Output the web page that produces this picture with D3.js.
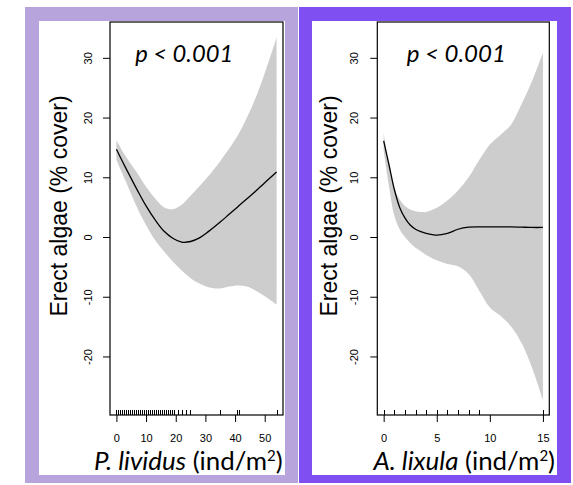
<!DOCTYPE html>
<html>
<head>
<meta charset="utf-8">
<script src="https://cdn.jsdelivr.net/npm/d3@7"></script>
<style>
  html, body { margin: 0; padding: 0; background: #fff; }
  svg { display: block; }
</style>
</head>
<body>
<svg id="chart" width="573" height="485"></svg>
<script>
// ---- P. lividus: fitted smooth and 95% confidence band ----
const lividusX   = [0, 3, 7, 10, 13, 16, 19, 22, 25, 28, 31, 35, 38, 41, 44, 47, 50, 54];
const lividusFit = [14.7, 11.7, 7.9, 5.2, 2.9, 1.0, -0.2, -0.85, -0.75, -0.15, 0.9, 2.5, 3.8, 5.1, 6.4, 7.7, 9.1, 10.9];
const lividusLo  = [12.9, 9.5, 4.9, 2.0, -0.5, -2.4, -4.1, -5.6, -6.9, -7.8, -8.4, -8.6, -8.3, -8.1, -8.3, -9.0, -9.9, -11.3];
const lividusHi  = [16.2, 13.6, 10.7, 8.4, 6.5, 5.0, 4.65, 5.4, 6.9, 8.5, 10.2, 12.7, 14.8, 17.1, 20.0, 23.4, 27.4, 33.4];
// observed densities (rug)
const lividusRug = [0, 0.67, 1.33, 2, 2.67, 3.33, 4, 4.67, 5.33, 6, 6.67, 7.33, 8, 8.67, 9.33, 10,
  10.67, 11.33, 12, 12.67, 13.33, 14, 14.67, 15.33, 16, 16.67, 17.33, 18, 18.67, 19.33,
  20.67, 22, 23.33, 24.67, 35, 40.67, 41.33, 54];
const lividusTicks = [0, 10, 20, 30, 40, 50];

// ---- A. lixula: fitted smooth and 95% confidence band ----
const lixulaX   = [0, 0.5, 1, 1.5, 2, 2.5, 3, 3.5, 4, 5, 6, 7, 8, 9, 10, 11, 12, 13, 14, 15];
const lixulaFit = [16.1, 12.1, 8.0, 5.0, 3.2, 2.0, 1.3, 0.9, 0.6, 0.3, 0.6, 1.3, 1.65, 1.7, 1.7, 1.7, 1.7, 1.65, 1.6, 1.6];
const lixulaLo  = [14.5, 8.5, 3.6, 1.3, 0.0, -1.0, -1.8, -2.4, -3.0, -3.9, -4.5, -4.9, -6.2, -9.0, -11.8, -13.2, -15.0, -17.8, -22.0, -27.3];
const lixulaHi  = [17.4, 12.0, 8.2, 6.3, 5.2, 4.6, 4.3, 4.2, 4.2, 4.9, 6.1, 7.8, 10.0, 12.9, 15.5, 17.1, 18.8, 22.3, 26.2, 30.8];
const lixulaRug = [0, 1, 2, 3, 4, 5, 6, 7, 8, 9, 15];
const lixulaTicks = [0, 5, 10, 15];

// ---- shared response axis ----
const yTicks = [-20, -10, 0, 10, 20, 30];
const yTitle = "Erect algae (% cover)";
const pLabel = "p < 0.001";

const svg = d3.select("#chart");
const sansFont = "'Liberation Sans', Arial, sans-serif";
const textFont = "Lato, 'Open Sans', sans-serif";

const y = d3.scaleLinear().domain([-29.8, 36.0]).range([415, 22]);

const panels = [
  {
    frame: { x: 25, w: 273, fill: "#b7a4dd" },
    inner: { x: 39, w: 246 },
    box: [110, 283],
    xDomain: [-2.16, 56.16],
    xs: lividusX, fit: lividusFit, lo: lividusLo, hi: lividusHi,
    rug: lividusRug, ticks: lividusTicks,
    species: "P. lividus",
    yTitleX: 67, yTickBase: 18.5,
    pCenter: 184.2, pWidth: 98,
    xtCenter: 188.3, xtWidth: 188.7, xtBase: 470
  },
  {
    frame: { x: 299, w: 272, fill: "#7f4ff2" },
    inner: { x: 312, w: 245 },
    box: [377.3, 549.3],
    xDomain: [-0.6, 15.6],
    xs: lixulaX, fit: lixulaFit, lo: lixulaLo, hi: lixulaHi,
    rug: lixulaRug, ticks: lixulaTicks,
    species: "A. lixula",
    yTitleX: 337, yTickBase: 19,
    pCenter: 456.3, pWidth: 99.3,
    xtCenter: 464.2, xtWidth: 181.7, xtBase: 469.5
  }
];

// scale a text element's font so its advance width equals the wanted width
function fitWidth(sel, width) {
  const fs = parseFloat(sel.attr("font-size"));
  const w = sel.node().getComputedTextLength();
  if (w > 0) sel.attr("font-size", fs * width / w);
}

// plain hyphen-minus labels, as base graphics prints them
const plainFormat = d => String(d);
const smooth = d3.curveCatmullRom.alpha(0.5);

panels.forEach(p => {
  // coloured frame with white inner card
  svg.append("rect").attr("x", p.frame.x).attr("y", 7)
    .attr("width", p.frame.w).attr("height", 476).attr("fill", p.frame.fill);
  svg.append("rect").attr("x", p.inner.x).attr("y", 21)
    .attr("width", p.inner.w).attr("height", 454).attr("fill", "#ffffff");

  const x = d3.scaleLinear().domain(p.xDomain).range(p.box);
  const rows = p.xs.map((v, i) => ({ x: v, fit: p.fit[i], lo: p.lo[i], hi: p.hi[i] }));

  const g = svg.append("g");

  // confidence band
  g.append("path")
    .datum(rows)
    .attr("fill", "#cdcdcd")
    .attr("d", d3.area().curve(smooth)
      .x(d => x(d.x)).y0(d => y(d.lo)).y1(d => y(d.hi)));

  // fitted smooth
  g.append("path")
    .datum(rows)
    .attr("fill", "none")
    .attr("stroke", "#000")
    .attr("stroke-width", 1.3)
    .attr("d", d3.line().curve(smooth)
      .x(d => x(d.x)).y(d => y(d.fit)));

  // rug of observations
  g.selectAll("line.rug").data(p.rug).enter().append("line")
    .attr("class", "rug")
    .attr("x1", d => Math.round(x(d)) + 0.5).attr("x2", d => Math.round(x(d)) + 0.5)
    .attr("y1", 415).attr("y2", 409.5)
    .attr("stroke", "#000").attr("stroke-width", 1)
    .attr("shape-rendering", "crispEdges");

  // plot box
  g.append("rect")
    .attr("x", p.box[0]).attr("y", 22)
    .attr("width", p.box[1] - p.box[0]).attr("height", 393)
    .attr("fill", "none").attr("stroke", "#000").attr("stroke-width", 1.2);

  // y axis
  const ya = svg.append("g").attr("transform", `translate(${p.box[0]},0)`)
    .call(d3.axisLeft(y).tickValues(yTicks).tickSize(7).tickFormat(plainFormat));
  ya.select(".domain").remove();
  ya.selectAll(".tick line").attr("stroke", "#000");
  ya.selectAll(".tick text")
    .attr("transform", "rotate(-90)")
    .attr("x", 0).attr("y", -p.yTickBase).attr("dy", 0)
    .style("text-anchor", "middle")
    .style("font-family", sansFont).style("font-size", "11px").attr("fill", "#000");

  // x axis
  const xa = svg.append("g").attr("transform", "translate(0,415)")
    .call(d3.axisBottom(x).tickValues(p.ticks).tickSize(7).tickFormat(plainFormat));
  xa.select(".domain").remove();
  xa.selectAll(".tick line").attr("stroke", "#000");
  xa.selectAll(".tick text")
    .attr("y", 26.5).attr("dy", 0)
    .style("font-family", sansFont).style("font-size", "11px").attr("fill", "#000");

  // y title
  svg.append("text")
    .attr("transform", `translate(${p.yTitleX},206) rotate(-90)`)
    .attr("text-anchor", "middle")
    .attr("font-family", sansFont)
    .attr("font-size", 23)
    .attr("fill", "#000")
    .text(yTitle);

  // significance label
  const pt = svg.append("text")
    .attr("x", p.pCenter).attr("y", 62)
    .attr("text-anchor", "middle")
    .attr("font-family", textFont)
    .attr("font-style", "italic")
    .attr("font-size", 24)
    .attr("fill", "#000")
    .text(pLabel);
  fitWidth(pt, p.pWidth);

  // x title: species name in italics, unit with superscript
  const xt = svg.append("text")
    .attr("x", p.xtCenter).attr("y", p.xtBase)
    .attr("text-anchor", "middle")
    .attr("font-family", textFont)
    .attr("font-size", 26)
    .attr("fill", "#000");
  xt.append("tspan").attr("font-style", "italic").text(p.species);
  xt.append("tspan").text(" (ind/m");
  xt.append("tspan").attr("font-size", 15).attr("dy", -9).text("2");
  xt.append("tspan").attr("dy", 9).text(")");
  fitWidth(xt, p.xtWidth);
});
</script>
</body>
</html>
